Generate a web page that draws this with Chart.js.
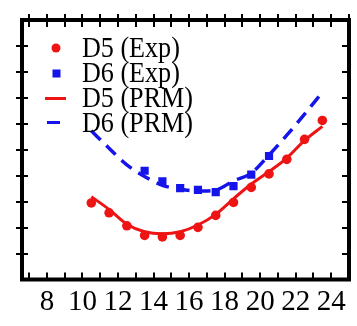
<!DOCTYPE html>
<html><head><meta charset="utf-8">
<script src="https://cdn.jsdelivr.net/npm/chart.js@4.4.1/dist/chart.umd.min.js"></script>
<style>html,body{margin:0;padding:0;background:#fff;}#wrap{width:357px;height:326px;position:relative;}</style>
</head><body><div id="wrap"><canvas id="c"></canvas></div>
<script>
// ---- data ----
const xD5 = [10.5, 11.5, 12.5, 13.5, 14.5, 15.5, 16.5, 17.5, 18.5, 19.5, 20.5, 21.5, 22.5, 23.5];
const d5Exp = [2.95, 2.57, 2.07, 1.70, 1.64, 1.70, 2.01, 2.47, 2.97, 3.55, 4.07, 4.63, 5.40, 6.13];
const xD6 = [13.5, 14.5, 15.5, 16.5, 17.5, 18.5, 19.5, 20.5];
const d6Exp = [4.19, 3.78, 3.52, 3.45, 3.37, 3.60, 4.04, 4.76];
const xPRM = [10.5, 11.5, 12.5, 13.5, 14.5, 15.5, 16.5, 17.5, 18.5, 19.5, 20.5, 21.5, 22.5, 23.5];
const d5PRM = [3.19, 2.70, 2.13, 1.84, 1.76, 1.84, 2.10, 2.51, 3.11, 3.68, 4.16, 4.68, 5.36, 5.90];
const d6PRM = [5.73, 5.06, 4.42, 3.97, 3.63, 3.48, 3.41, 3.45, 3.80, 4.10, 4.80, 5.56, 6.37, 7.22];
const xTickLabels = [8, 10, 12, 14, 16, 18, 20, 22, 24];
const seriesNames = ['D5 (Exp)', 'D6 (Exp)', 'D5 (PRM)', 'D6 (PRM)'];

const RED = 'rgb(238,20,20)';
const BLUE = 'rgb(20,20,235)';
const SERIF = '"Liberation Serif", "Times New Roman", serif';

const pts = (xs, ys) => xs.map((x, i) => ({x, y: ys[i]}));

const framePlugin = {
  id: 'frame',
  afterDatasetsDraw(chart) {
    const {ctx, chartArea: a, scales: {x, y}} = chart;
    ctx.save();
    ctx.strokeStyle = '#000';
    ctx.lineWidth = 2;
    ctx.beginPath();
    for (let v = Math.ceil(x.min); v <= Math.floor(x.max); v++) {
      const px = Math.round(x.getPixelForValue(v));
      ctx.moveTo(px, a.bottom); ctx.lineTo(px, a.bottom - 7);
      ctx.moveTo(px, a.top - 6); ctx.lineTo(px, a.top + 7);
    }
    for (let v = Math.ceil(y.min) + 1; v < y.max; v++) {
      const py = Math.round(y.getPixelForValue(v));
      ctx.moveTo(a.left - 6, py); ctx.lineTo(a.left + 6, py);
      ctx.moveTo(a.right, py); ctx.lineTo(a.right - 7, py);
    }
    ctx.stroke();
    ctx.lineWidth = 4;
    ctx.strokeRect(a.left, a.top, a.right - a.left, a.bottom - a.top);
    ctx.restore();
  }
};

const legendPlugin = {
  id: 'innerLegend',
  afterDraw(chart) {
    const ctx = chart.ctx;
    ctx.save();
    ctx.font = '29px ' + SERIF;
    ctx.fillStyle = '#000';
    ctx.textBaseline = 'alphabetic';
    const baselines = [57, 82, 107, 132];
    seriesNames.forEach((t, i) => {
      const w = ctx.measureText(t).width;
      ctx.fillText(t, 82, baselines[i], w * 0.9);
    });
    // markers
    ctx.fillStyle = RED;
    ctx.beginPath(); ctx.arc(56, 48, 4.5, 0, Math.PI * 2); ctx.fill();
    ctx.fillStyle = BLUE;
    ctx.fillRect(52.5, 69.5, 8, 8);
    ctx.lineWidth = 3;
    ctx.strokeStyle = RED;
    ctx.beginPath(); ctx.moveTo(45, 98.5); ctx.lineTo(66, 98.5); ctx.stroke();
    ctx.strokeStyle = BLUE;
    ctx.beginPath(); ctx.moveTo(47, 122.5); ctx.lineTo(60, 122.5); ctx.stroke();
    ctx.restore();
  }
};

new Chart(document.getElementById('c'), {
  type: 'scatter',
  data: {
    datasets: [
      {label: seriesNames[0], data: pts(xD5, d5Exp), showLine: false, order: 0,
       pointStyle: 'circle', pointRadius: 4.8, backgroundColor: RED, borderColor: RED, borderWidth: 0},
      {label: seriesNames[1], data: pts(xD6, d6Exp), showLine: false, order: 0,
       pointStyle: 'rect', pointRadius: 5.8, backgroundColor: BLUE, borderColor: BLUE, borderWidth: 0},
      {label: seriesNames[2], data: pts(xPRM, d5PRM), showLine: true, order: 1, pointRadius: 0,
       borderColor: RED, borderWidth: 3, cubicInterpolationMode: 'monotone'},
      {label: seriesNames[3], data: pts(xPRM, d6PRM), showLine: true, order: 1, pointRadius: 0,
       borderColor: BLUE, borderWidth: 3.5, borderDash: [13, 8], cubicInterpolationMode: 'monotone'}
    ]
  },
  options: {
    responsive: true,
    maintainAspectRatio: false,
    animation: false,
    devicePixelRatio: 1,
    layout: {padding: {left: 22, right: 7, top: 20, bottom: 1.5}},
    plugins: {legend: {display: false}, tooltip: {enabled: false}},
    scales: {
      x: {
        type: 'linear', min: 6.6, max: 25, position: 'bottom',
        grid: {display: false, drawTicks: false}, border: {display: false},
        ticks: {
          stepSize: 1, autoSkip: false, maxRotation: 0, padding: 8, color: '#000',
          font: {family: SERIF, size: 29, lineHeight: 1},
          callback: (v) => xTickLabels.includes(v) ? String(v) : ''
        }
      },
      y: {
        type: 'linear', min: 0, max: 10,
        grid: {display: false, drawTicks: false}, border: {display: false},
        ticks: {display: false, stepSize: 1}
      }
    }
  },
  plugins: [framePlugin, legendPlugin]
});
</script>
</body></html>
